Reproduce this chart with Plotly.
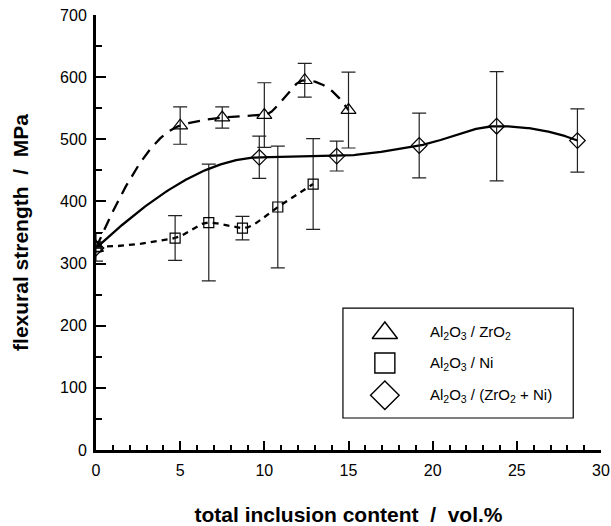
import numpy as np
import plotly.graph_objects as go

# Al2O3 / ZrO2 (triangles)
x_zr = [0, 5.0, 7.5, 10.0, 12.4, 15.0]
y_zr = [325, 522, 535, 539, 595, 547]
e_zr = [0, 30, 17, 52, 27, 61]

# Al2O3 / Ni (squares)
x_ni = [0, 4.7, 6.7, 8.7, 10.8, 12.9]
y_ni = [327, 341, 366, 357, 391, 428]
e_ni = [23, 36, 94, 19, 98, 73]

# Al2O3 / (ZrO2 + Ni) (diamonds)
x_zn = [0, 9.7, 14.3, 19.2, 23.8, 28.6]
y_zn = [325, 471, 473, 490, 521, 498]
e_zn = [0, 34, 24, 52, 88, 51]

legend_labels = [
    "Al<sub>2</sub>O<sub>3</sub> / ZrO<sub>2</sub>",
    "Al<sub>2</sub>O<sub>3</sub> / Ni",
    "Al<sub>2</sub>O<sub>3</sub> / (ZrO<sub>2</sub> + Ni)",
]
legend_symbols = ["triangle-up-open", "square-open", "diamond-open"]


def pchip(xk, yk, n=300):
    """Monotone piecewise cubic Hermite interpolation through the data points."""
    xk = np.asarray(xk, float)
    yk = np.asarray(yk, float)
    h = np.diff(xk)
    d = np.diff(yk) / h
    m = np.zeros_like(xk)
    for i in range(1, len(xk) - 1):
        if d[i - 1] * d[i] > 0:
            w1 = 2 * h[i] + h[i - 1]
            w2 = h[i] + 2 * h[i - 1]
            m[i] = (w1 + w2) / (w1 / d[i - 1] + w2 / d[i])
    def end(h0, h1, d0, d1):
        v = ((2 * h0 + h1) * d0 - h0 * d1) / (h0 + h1)
        if np.sign(v) != np.sign(d0):
            v = 0.0
        elif np.sign(d0) != np.sign(d1) and abs(v) > abs(3 * d0):
            v = 3 * d0
        return v
    m[0] = end(h[0], h[1], d[0], d[1])
    m[-1] = end(h[-1], h[-2], d[-1], d[-2])
    xs = np.linspace(xk[0], xk[-1], n)
    idx = np.clip(np.searchsorted(xk, xs, side="right") - 1, 0, len(xk) - 2)
    t = (xs - xk[idx]) / h[idx]
    h00 = 2 * t**3 - 3 * t**2 + 1
    h10 = t**3 - 2 * t**2 + t
    h01 = -2 * t**3 + 3 * t**2
    h11 = t**3 - t**2
    ys = h00 * yk[idx] + h10 * h[idx] * m[idx] + h01 * yk[idx + 1] + h11 * h[idx] * m[idx + 1]
    return xs, ys


FONT = "Liberation Sans"
fig = go.Figure()

series = [
    (x_zr, y_zr, e_zr, "triangle-up-open", 13, "12px,8px"),
    (x_ni, y_ni, e_ni, "square-open", 10, "6px,5px"),
    (x_zn, y_zn, e_zn, "diamond-open", 12, "solid"),
]
for xs, ys, es, sym, sz, dash in series:
    cx, cy = pchip(xs, ys)
    fig.add_trace(go.Scatter(
        x=cx, y=cy, mode="lines", line=dict(color="black", width=2.3, dash=dash),
        showlegend=False, hoverinfo="skip"))
    fig.add_trace(go.Scatter(
        x=xs, y=ys, mode="markers",
        marker=dict(symbol=sym, size=sz, color="black", line=dict(width=1.2, color="black")),
        error_y=dict(type="data", array=es, visible=True, color="#222", thickness=1.2, width=7),
        showlegend=False))

# manual legend on an overlay axis (0..1 paper-like)
leg_y = [0.269, 0.2, 0.126]
leg_sizes = [22, 20, 22]
for lab, sym, yy, s in zip(legend_labels, legend_symbols, leg_y, leg_sizes):
    fig.add_trace(go.Scatter(x=[0.572], y=[yy], xaxis="x2", yaxis="y2", mode="markers",
                             marker=dict(symbol=sym, size=s, color="black",
                                         line=dict(width=1.4, color="black")),
                             showlegend=False, hoverinfo="skip"))
    fig.add_annotation(x=0.657, y=yy, xref="x2", yref="y2", text=lab, showarrow=False,
                       xanchor="left", yanchor="middle",
                       font=dict(size=15, family=FONT, color="black"))

fig.add_shape(type="rect", xref="x2", yref="y2", x0=0.489, x1=0.945, y0=0.0736, y1=0.326,
              line=dict(color="black", width=1.2))

fig.update_layout(
    width=611, height=526,
    margin=dict(l=96, r=10, t=15, b=76, autoexpand=False),
    paper_bgcolor="white", plot_bgcolor="white",
    font=dict(family=FONT, size=16, color="black"),
    showlegend=False,
    xaxis=dict(range=[0, 30], tickvals=[0, 5, 10, 15, 20, 25, 30], automargin=False,
               ticks="inside", ticklen=9, tickwidth=2, tickcolor="black",
               minor=dict(dtick=1, ticks="inside", ticklen=5, tickwidth=2, tickcolor="black"),
               showline=True, linewidth=3, linecolor="black", showgrid=False, zeroline=False,
               tickfont=dict(size=16, family=FONT, color="black"), ticklabelstandoff=4,
               title=dict(text="<b>total inclusion content\u00a0\u00a0/\u00a0\u00a0vol.%</b>",
                          font=dict(size=21, family=FONT, color="black"), standoff=30)),
    yaxis=dict(range=[0, 700], dtick=100, automargin=False,
               ticks="inside", ticklen=10, tickwidth=2, tickcolor="black",
               minor=dict(dtick=50, ticks="inside", ticklen=6, tickwidth=2, tickcolor="black"),
               showline=True, linewidth=3, linecolor="black", showgrid=False, zeroline=False,
               tickfont=dict(size=16, family=FONT, color="black"), ticklabelstandoff=3,
               title=dict(text="<b>flexural strength\u00a0\u00a0/\u00a0\u00a0MPa</b>",
                          font=dict(size=21, family=FONT, color="black"), standoff=26)),
    xaxis2=dict(range=[0, 1], overlaying="x", visible=False, fixedrange=True),
    yaxis2=dict(range=[0, 1], overlaying="y", visible=False, fixedrange=True),
)
fig.write_html("out.html", config={"displayModeBar": False},
               post_script="document.body.style.margin='0';")
